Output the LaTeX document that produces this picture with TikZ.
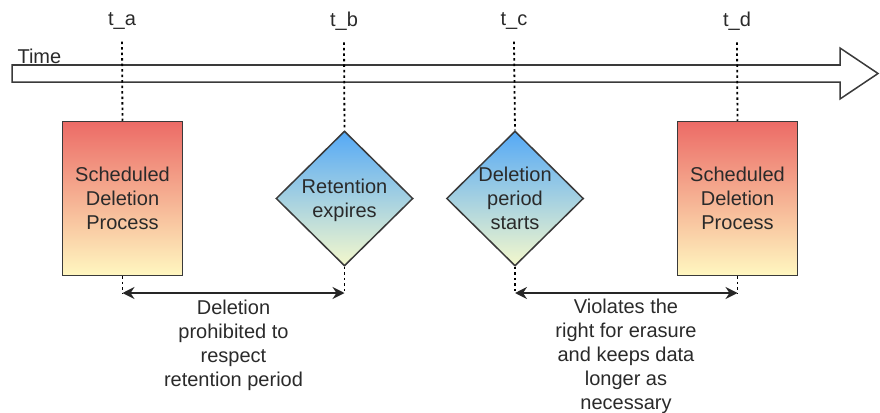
\documentclass[tikz,border=0pt]{standalone}
\usepackage{fontspec}
\setmainfont{Liberation Sans}
\usetikzlibrary{shapes.geometric,arrows.meta}
\definecolor{redtop}{HTML}{EC6B66}
\definecolor{redbot}{HTML}{FFF7C0}
\definecolor{bluetop}{HTML}{55A9F6}
\definecolor{bluebot}{HTML}{F4F8CC}
\definecolor{edge}{HTML}{3A3A3A}
\definecolor{txt}{HTML}{2A2A2A}
\tikzset{
  base/.style={font=\fontsize{20}{24}\selectfont, text=txt},
  procbox/.style={draw=edge, line width=1.5pt, top color=redtop, bottom color=redbot,
    minimum width=120pt, minimum height=154pt, inner sep=0pt, align=center, base},
  decision/.style={diamond, draw=edge, line width=1.5pt, top color=bluetop, bottom color=bluebot,
    minimum width=137pt, minimum height=135pt, inner sep=0pt},
  dlabel/.style={align=center, base},
  tick/.style={draw=black, line width=1.8pt, dash pattern=on 2.5pt off 3pt},
  span/.style={draw=black!85, line width=1.6pt,
    {Stealth[length=12pt,width=12pt,inset=4pt]}-{Stealth[length=12pt,width=12pt,inset=4pt]}},
  timearrow/.style={draw=edge, line width=1.5pt, fill=white},
  note/.style={align=center, base}
}
\begin{document}
\begin{tikzpicture}[x=1pt,y=-1pt]
\useasboundingbox (0,0) rectangle (880,412);
% time arrow
\draw[timearrow] (12,65) -- (840,65) -- (840,48) -- (878,73.5) -- (840,99) -- (840,82) -- (12,82) -- cycle;
\node[base, anchor=west] (time) at (14,56) {Time};
% time labels
\node[base, inner sep=0pt] (ta) at (122,21) {t\_a};
\node[base, inner sep=0pt] (tb) at (344,21) {t\_b};
\node[base, inner sep=0pt] (tc) at (514,21) {t\_c};
\node[base, inner sep=0pt] (td) at (737,21) {t\_d};
% shapes
\node[procbox] (box1) at (122.5,198.5) {Scheduled\\Deletion\\Process};
\node[decision, label={[dlabel, yshift=-2pt]center:Retention\\expires}] (d1) at (344.5,198.5) {};
\node[decision, label={[dlabel]center:Deletion\\period\\starts}] (d2) at (515,198.5) {};
\node[procbox] (box2) at (737.5,198.5) {Scheduled\\Deletion\\Process};
% bottom coordinates
\coordinate (a1) at (122.5,293);
\coordinate (b1) at (344.5,293);
\coordinate (a2) at (515,293);
\coordinate (b2) at (737.5,293);
% dotted ticks
\draw[tick] ([yshift=-12pt]ta.south) -- (box1.north);
\draw[tick] (box1.south) -- (a1);
\draw[tick] ([yshift=-12pt]tb.south) -- (d1.north);
\draw[tick] (d1.south) -- (b1);
\draw[tick] ([yshift=-12pt]tc.south) -- (d2.north);
\draw[tick] (d2.south) -- (a2);
\draw[tick] ([yshift=-12pt]td.south) -- (box2.north);
\draw[tick] (box2.south) -- (b2);
% spans
\draw[span] (a1) -- (b1);
\draw[span] (a2) -- (b2);
\node[note] (n1) at (233.5,345) {Deletion\\prohibited to\\respect\\retention period};
\node[note] (n2) at (626,356) {Violates the\\right for erasure\\and keeps data\\longer as\\necessary};
\end{tikzpicture}
\end{document}
